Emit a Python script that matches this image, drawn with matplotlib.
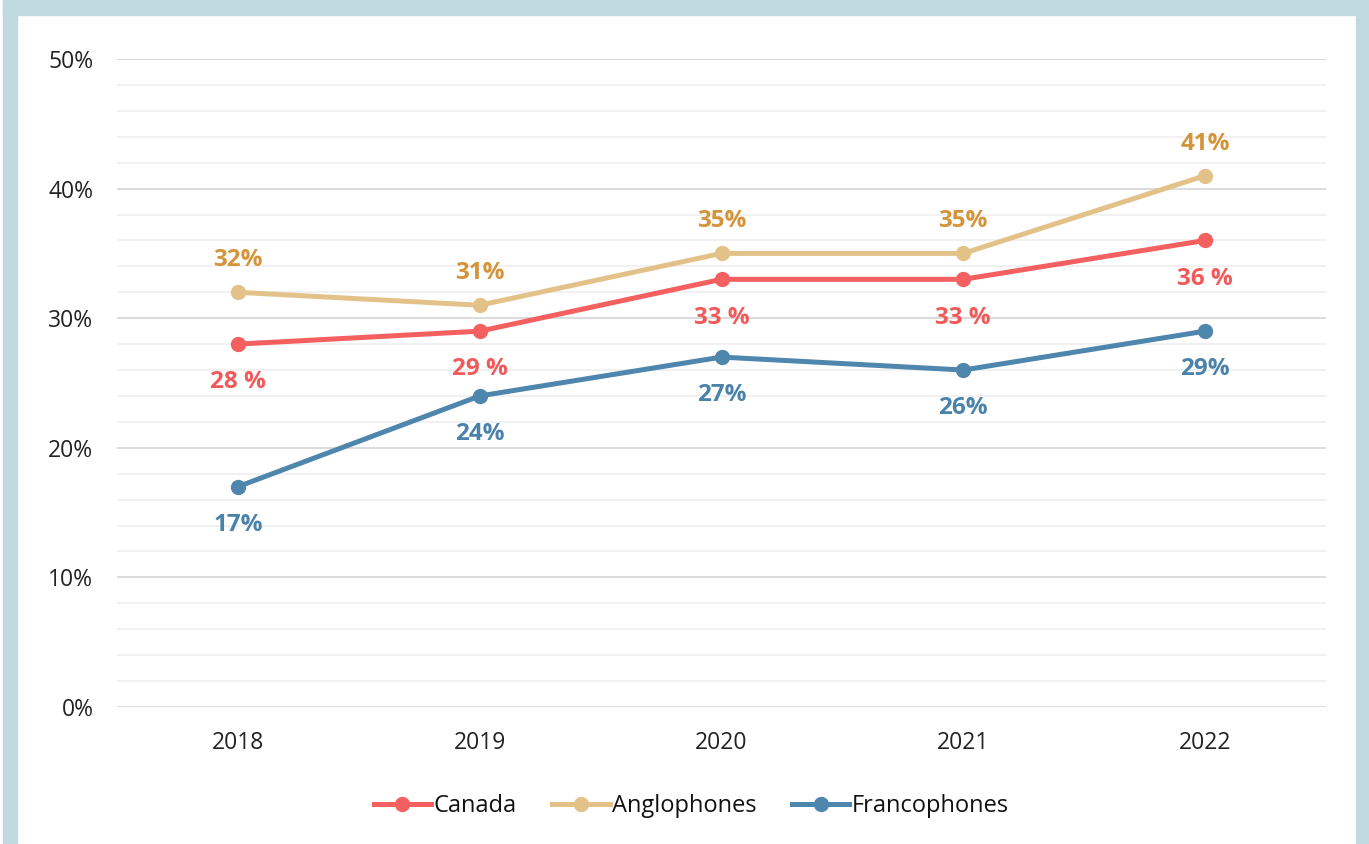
import matplotlib
matplotlib.use("Agg")
import matplotlib.pyplot as plt
from matplotlib.patches import Rectangle
from matplotlib.ticker import MultipleLocator, FuncFormatter

plt.rcParams['font.family'] = ['Open Sans', 'DejaVu Sans']

years = ["2018", "2019", "2020", "2021", "2022"]
canada = [28, 29, 33, 33, 36]
anglo = [32, 31, 35, 35, 41]
franco = [17, 24, 27, 26, 29]
canada_labels = ["28 %", "29 %", "33 %", "33 %", "36 %"]
anglo_labels = ["32%", "31%", "35%", "35%", "41%"]
franco_labels = ["17%", "24%", "27%", "26%", "29%"]

W, H = 1369, 844
fig = plt.figure(figsize=(W/100, H/100), dpi=100)
fig.patch.set_facecolor("white")
# light blue frame
border = "#c0dbe0"
fig.patches.append(Rectangle((3/W, 0), 14/W, 1, transform=fig.transFigure, color=border, zorder=0))
fig.patches.append(Rectangle((1356/W, 0), 13/W, 1, transform=fig.transFigure, color=border, zorder=0))
fig.patches.append(Rectangle((3/W, 1-15/H), 1-3/W, 15/H, transform=fig.transFigure, color=border, zorder=0))

ax = fig.add_axes([117/W, 1-707/H, (1326-117)/W, (707-59)/H])
x = list(range(len(years)))

ax.set_xlim(-0.5, 4.5)
ax.set_ylim(0, 50)
ax.yaxis.set_major_locator(MultipleLocator(10))
ax.yaxis.set_minor_locator(MultipleLocator(2))
ax.yaxis.set_major_formatter(FuncFormatter(lambda v, p: f"{int(v)}%"))
ax.grid(axis='y', which='major', color="#d9d9d9", linewidth=1.3, zorder=0)
ax.grid(axis='y', which='minor', color="#efefef", linewidth=1.2, zorder=0)
ax.set_axisbelow(True)
for s in ax.spines.values():
    s.set_visible(False)
ax.tick_params(axis='both', which='both', length=0, labelsize=16.5, colors="#222222")
ax.tick_params(axis='y', pad=17)
ax.tick_params(axis='x', pad=17)
ax.set_xticks(x)
ax.set_xticklabels(years)

c_red, c_red_t = "#f4605f", "#f25a5a"
c_gold, c_gold_t = "#e3c28a", "#d4943a"
c_blue, c_blue_t = "#4f86ad", "#4a82aa"

lw, ms = 3.6, 10
ax.plot(x, canada, color=c_red, lw=lw, marker='o', ms=ms, label="Canada", zorder=3)
ax.plot(x, anglo, color=c_gold, lw=lw, marker='o', ms=ms, label="Anglophones", zorder=3)
ax.plot(x, franco, color=c_blue, lw=lw, marker='o', ms=ms, label="Francophones", zorder=3)

fs = 17.5
for xi, v, t in zip(x, anglo, anglo_labels):
    ax.annotate(t, (xi, v), xytext=(0, 23), textcoords='offset points', ha='center', va='center',
                fontsize=fs, fontweight='bold', color=c_gold_t)
for xi, v, t in zip(x, canada, canada_labels):
    ax.annotate(t, (xi, v), xytext=(0, -27.5), textcoords='offset points', ha='center', va='center',
                fontsize=fs, fontweight='bold', color=c_red_t)
for xi, v, t in zip(x, franco, franco_labels):
    ax.annotate(t, (xi, v), xytext=(0, -27.5), textcoords='offset points', ha='center', va='center',
                fontsize=fs, fontweight='bold', color=c_blue_t)

leg = fig.legend(loc='center', bbox_to_anchor=(691/W, 1-806/H), ncol=3, frameon=False,
                 fontsize=17, handlelength=2.45, handletextpad=0.08, columnspacing=1.5)
for t in leg.get_texts():
    t.set_color("#111111")

fig.savefig("out.png", dpi=100, facecolor="white")
